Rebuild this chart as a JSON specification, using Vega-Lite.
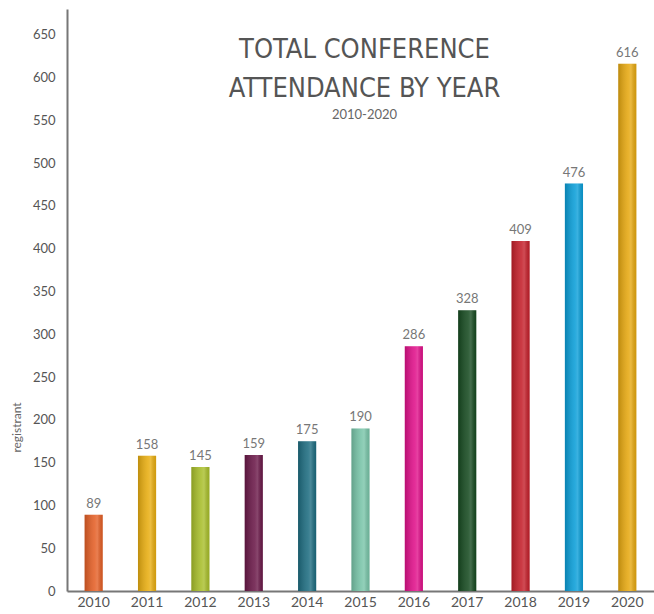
{
  "$schema": "https://vega.github.io/schema/vega-lite/v6.json",
  "autosize": "none",
  "width": 587,
  "height": 582,
  "padding": {"left": 67, "top": 9, "right": 0, "bottom": 23},
  "background": "white",
  "title": {
    "text": ["TOTAL CONFERENCE", "ATTENDANCE BY YEAR"],
    "subtitle": "2010-2020",
    "anchor": "middle",
    "frame": "group",
    "orient": "top",
    "offset": -114,
    "dx": 4,
    "font": "DejaVu Sans Condensed",
    "fontSize": 27,
    "fontWeight": "normal",
    "color": "#555555",
    "lineHeight": 39,
    "subtitleFont": "Lato",
    "subtitleFontSize": 13,
    "subtitleColor": "#666666",
    "subtitlePadding": 6
  },
  "data": {
    "values": [
      {"year": "2010", "registrant": 89},
      {"year": "2011", "registrant": 158},
      {"year": "2012", "registrant": 145},
      {"year": "2013", "registrant": 159},
      {"year": "2014", "registrant": 175},
      {"year": "2015", "registrant": 190},
      {"year": "2016", "registrant": 286},
      {"year": "2017", "registrant": 328},
      {"year": "2018", "registrant": 409},
      {"year": "2019", "registrant": 476},
      {"year": "2020", "registrant": 616}
    ]
  },
  "encoding": {
    "x": {
      "field": "year",
      "type": "ordinal",
      "scale": {"paddingInner": 0.66, "paddingOuter": 0.33},
      "axis": {
        "title": null,
        "labelAngle": 0,
        "labelFont": "Lato",
        "labelFontSize": 14,
        "labelColor": "#555555",
        "ticks": false,
        "labelPadding": 4,
        "domainColor": "#777777",
        "domainWidth": 2
      }
    },
    "y": {
      "field": "registrant",
      "type": "quantitative",
      "scale": {"domain": [0, 680]},
      "axis": {
        "title": "registrant",
        "titleFont": "Lato",
        "titleFontSize": 12,
        "titleFontWeight": "normal",
        "titleColor": "#666666",
        "titleX": -44,
        "titleY": 418,
        "titleAngle": -90,
        "values": [0, 50, 100, 150, 200, 250, 300, 350, 400, 450, 500, 550, 600, 650],
        "grid": false,
        "ticks": false,
        "labelFont": "Lato",
        "labelFontSize": 13,
        "labelColor": "#555555",
        "labelPadding": 12,
        "domainColor": "#777777",
        "domainWidth": 2
      }
    }
  },
  "layer": [
    {
      "mark": {"type": "bar"},
      "encoding": {
        "color": {
          "field": "year",
          "type": "nominal",
          "legend": null,
          "scale": {
            "domain": ["2010", "2011", "2012", "2013", "2014", "2015", "2016", "2017", "2018", "2019", "2020"],
            "range": ["#e45f26", "#e8ad10", "#a8be2a", "#6a1848", "#1d6c80", "#78c4a8", "#e0108a", "#164a20", "#c41f2a", "#0a9ed8", "#e6a810"]
          }
        }
      }
    },
    {
      "mark": {
        "type": "bar",
        "fill": {
          "gradient": "linear",
          "x1": 0, "y1": 0, "x2": 1, "y2": 0,
          "stops": [
            {"offset": 0, "color": "rgba(0,0,0,0.18)"},
            {"offset": 0.55, "color": "rgba(255,255,255,0.12)"},
            {"offset": 0.7, "color": "rgba(255,255,255,0.2)"},
            {"offset": 1, "color": "rgba(0,0,0,0.1)"}
          ]
        }
      }
    },
    {
      "mark": {
        "type": "text",
        "dy": -11,
        "font": "Lato",
        "fontSize": 13,
        "color": "#777777"
      },
      "encoding": {
        "text": {"field": "registrant", "type": "quantitative"}
      }
    }
  ],
  "config": {"view": {"stroke": null}}
}
